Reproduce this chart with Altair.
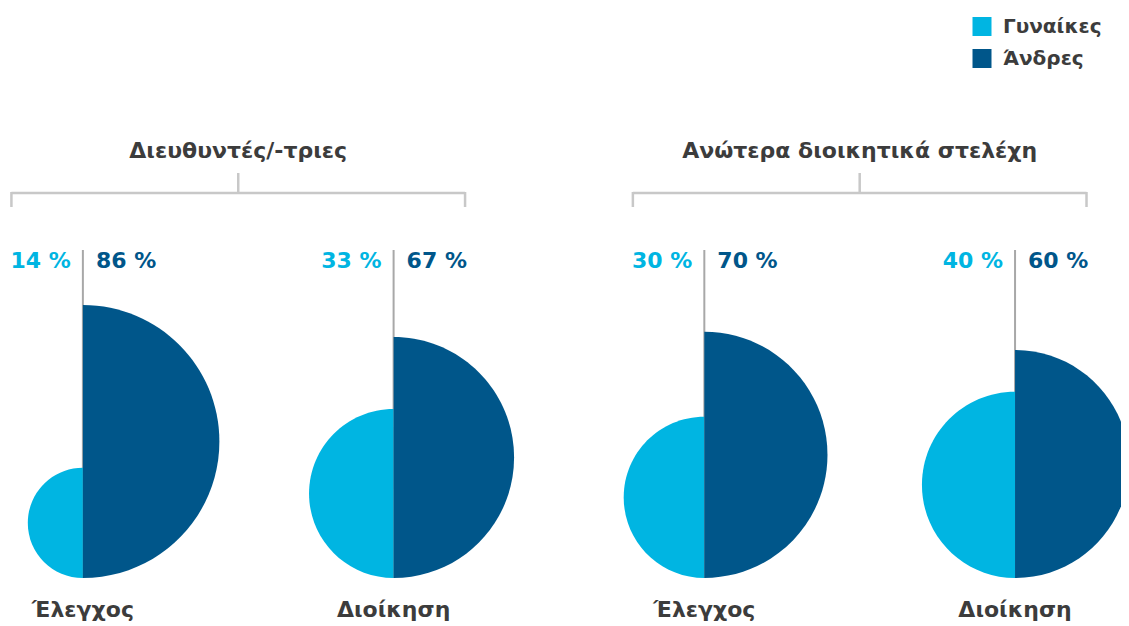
import altair as alt
import pandas as pd

# ---- data ----
groups = ["Διευθυντές/-τριες", "Διευθυντές/-τριες",
          "Ανώτερα διοικητικά στελέχη", "Ανώτερα διοικητικά στελέχη"]
areas = ["Έλεγχος", "Διοίκηση", "Έλεγχος", "Διοίκηση"]
women = [14, 33, 30, 40]
men = [86, 67, 70, 60]
genders = ["Γυναίκες", "Άνδρες"]

LIGHT = "#00b5e2"
DARK = "#00568a"
TEXT = "#3c3c3c"
GRAY = "#c8c8c8"
FONT = "DejaVu Sans"

slots = list(range(1, len(areas) + 1))

rows = []
for s, g, a, w, m in zip(slots, groups, areas, women, men):
    rows.append({"slot": s, "group": g, "area": a, "gender": genders[0], "value": w})
    rows.append({"slot": s, "group": g, "area": a, "gender": genders[1], "value": m})
long_df = pd.DataFrame(rows)

pairs_df = pd.DataFrame({"slot": slots, "group": groups, "area": areas,
                         "women": women, "men": men})

group_names = list(dict.fromkeys(groups))
brackets_df = pd.DataFrame({
    "group": group_names,
    "first": [min(s for s, g in zip(slots, groups) if g == n) for n in group_names],
    "last": [max(s for s, g in zip(slots, groups) if g == n) for n in group_names],
})

legend_df = pd.DataFrame({"gender": genders})

xscale = alt.Scale(domain=[0.759, 4.341])
X = lambda f: alt.X(f, type="quantitative", scale=xscale, axis=None)
color_scale = alt.Scale(domain=genders, range=[LIGHT, DARK])

# half-circle symbols sitting on their baseline (radius 1, diameter along the y axis)
LEFT_HALF = "M0,0 L0,-2 A1,1 0 0,0 0,0 Z"
RIGHT_HALF = "M0,0 L0,-2 A1,1 0 0,1 0,0 Z"

BASE = 570

center_line = alt.Chart(pairs_df).mark_rule(color="#a8a8a8", strokeWidth=2).encode(
    x=X("slot"), y=alt.value(242), y2=alt.value(BASE)
)

halves = alt.Chart(long_df).mark_point(filled=True, opacity=1, strokeWidth=0).encode(
    x=X("slot"),
    y=alt.value(BASE),
    size=alt.Size("value:Q", scale=alt.Scale(domain=[0, 100], range=[0, 86670]), legend=None),
    shape=alt.Shape("gender:N", scale=alt.Scale(domain=genders, range=[LEFT_HALF, RIGHT_HALF]),
                    legend=None),
    color=alt.Color("gender:N", scale=color_scale, legend=None),
)

pct_w = alt.Chart(pairs_df).transform_calculate(
    txt="datum.women + ' %'"
).mark_text(align="right", baseline="alphabetic", dx=-12, font=FONT, fontSize=22,
            fontWeight="bold", color=LIGHT).encode(
    x=X("slot"), y=alt.value(260), text="txt:N"
)
pct_m = alt.Chart(pairs_df).transform_calculate(
    txt="datum.men + ' %'"
).mark_text(align="left", baseline="alphabetic", dx=13, font=FONT, fontSize=22,
            fontWeight="bold", color=DARK).encode(
    x=X("slot"), y=alt.value(260), text="txt:N"
)

area_lbl = alt.Chart(pairs_df).mark_text(align="center", baseline="alphabetic", font=FONT,
                                         fontSize=22, fontWeight="bold", color=TEXT).encode(
    x=X("slot"), y=alt.value(609), text="area:N"
)

br = alt.Chart(brackets_df).transform_calculate(
    x0="datum.first - 0.23", x1="datum.last + 0.23", mid="(datum.first + datum.last) / 2"
)
br_h = br.mark_rule(color=GRAY, strokeWidth=2.5).encode(
    x=X("x0"), x2="x1:Q", y=alt.value(185)
)
br_l = br.mark_rule(color=GRAY, strokeWidth=2.5).encode(
    x=X("x0"), y=alt.value(184), y2=alt.value(199)
)
br_r = br.mark_rule(color=GRAY, strokeWidth=2.5).encode(
    x=X("x1"), y=alt.value(184), y2=alt.value(199)
)
br_c = br.mark_rule(color=GRAY, strokeWidth=2.5).encode(
    x=X("mid"), y=alt.value(165), y2=alt.value(186)
)
br_t = br.mark_text(align="center", baseline="alphabetic", font=FONT, fontSize=22,
                    fontWeight="bold", color=TEXT).encode(
    x=X("mid"), y=alt.value(150), text="group:N"
)

legend_y = alt.Y("gender:N", scale=alt.Scale(domain=genders, range=[18.5, 50.5], padding=0),
                 axis=None)
leg_sq = alt.Chart(legend_df).mark_square(size=361, opacity=1).encode(
    x=alt.value(974), y=legend_y,
    color=alt.Color("gender:N", scale=color_scale, legend=None),
)
leg_tx = alt.Chart(legend_df).mark_text(align="left", baseline="middle", font=FONT,
                                        fontSize=20, fontWeight="bold", color=TEXT).encode(
    x=alt.value(995), y=legend_y, text="gender:N"
)

chart = alt.layer(
    center_line, halves, pct_w, pct_m, area_lbl, br_h, br_l, br_r, br_c, br_t,
    leg_sq, leg_tx
).properties(
    width=1113, height=618, padding=0,
    autosize=alt.AutoSizeParams(type="none"),
    background="white",
).configure_view(stroke=None)

chart.save("out.html", embed_options={"renderer": "svg", "actions": False})
